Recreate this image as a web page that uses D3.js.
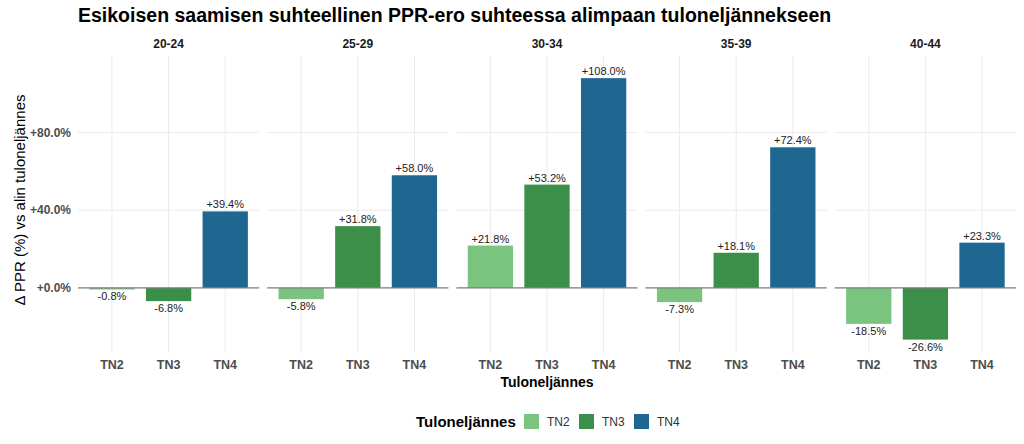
<!DOCTYPE html>
<html>
<head>
<meta charset="utf-8">
<script src="https://cdn.jsdelivr.net/npm/d3@7"></script>
<style>
  body { margin: 0; background: #fff; }
  text { font-family: "Liberation Sans", Arial, sans-serif; }
</style>
</head>
<body>
<div id="chart"></div>
<script>
const ageGroups = ["20-24", "25-29", "30-34", "35-39", "40-44"];
const quartiles = ["TN2", "TN3", "TN4"];
const valuesTN2 = [-0.8, -5.8, 21.8, -7.3, -18.5];
const valuesTN3 = [-6.8, 31.8, 53.2, 18.1, -26.6];
const valuesTN4 = [39.4, 58.0, 108.0, 72.4, 23.3];
const yTicks = [0, 40, 80];
const colors = ["#7bc47f", "#3b8f48", "#1e6791"];

const data = ageGroups.map((g, i) => ({
    group: g,
    values: [
        { q: "TN2", v: valuesTN2[i] },
        { q: "TN3", v: valuesTN3[i] },
        { q: "TN4", v: valuesTN4[i] }
    ]
}));

const W = 1024, H = 444;
const plotLeft = 78, plotRight = 1016, plotTop = 56, plotBottom = 353;
const gap = 8;
const panelW = (plotRight - plotLeft - gap * (ageGroups.length - 1)) / ageGroups.length;

const svg = d3.select("#chart")
    .append("svg")
    .attr("width", W)
    .attr("height", H);

const color = d3.scaleOrdinal().domain(quartiles).range(colors);

const y = d3.scaleLinear().domain([-33.5, 119.4]).range([plotBottom, plotTop]);

const panelX = d3.scaleBand().domain(ageGroups).range([plotLeft, plotRight + gap]).paddingInner(0);

// band scale inside each panel, ggplot-like expansion of 0.6 units
const x = d3.scaleBand().domain(quartiles).range([0, panelW]).paddingInner(0.2).paddingOuter(0.2);

const fmt = v => (v >= 0 ? "+" : "") + v.toFixed(1) + "%";

// title
svg.append("text")
    .attr("x", plotLeft)
    .attr("y", 22)
    .attr("font-size", "19.5px")
    .attr("font-weight", "bold")
    .attr("fill", "#000")
    .text("Esikoisen saamisen suhteellinen PPR-ero suhteessa alimpaan tuloneljännekseen");

data.forEach(d => {
    const g = svg.append("g")
        .attr("transform", `translate(${panelX(d.group)},0)`);

    // horizontal grid
    g.selectAll(".hgrid")
        .data(yTicks)
        .enter()
        .append("line")
        .attr("x1", 0).attr("x2", panelW)
        .attr("y1", t => y(t)).attr("y2", t => y(t))
        .style("stroke", "#ebebeb")
        .style("stroke-width", 1);

    // vertical grid
    g.selectAll(".vgrid")
        .data(quartiles)
        .enter()
        .append("line")
        .attr("x1", q => x(q) + x.bandwidth() / 2)
        .attr("x2", q => x(q) + x.bandwidth() / 2)
        .attr("y1", plotTop).attr("y2", plotBottom)
        .style("stroke", "#ebebeb")
        .style("stroke-width", 1);

    // strip label
    g.append("text")
        .attr("x", panelW / 2)
        .attr("y", 48)
        .attr("text-anchor", "middle")
        .attr("font-size", "12px")
        .attr("font-weight", "bold")
        .attr("fill", "#1a1a1a")
        .text(d.group);

    // bars
    g.selectAll(".bar")
        .data(d.values)
        .enter()
        .append("rect")
        .attr("x", v => x(v.q))
        .attr("width", x.bandwidth())
        .attr("y", v => y(Math.max(0, v.v)))
        .attr("height", v => Math.abs(y(v.v) - y(0)))
        .style("fill", v => color(v.q));

    // zero line
    g.append("line")
        .attr("x1", 0).attr("x2", panelW)
        .attr("y1", y(0)).attr("y2", y(0))
        .style("stroke", "#7f7f7f")
        .style("stroke-width", 1.2);

    // value labels
    g.selectAll(".lbl")
        .data(d.values)
        .enter()
        .append("text")
        .attr("x", v => x(v.q) + x.bandwidth() / 2)
        .attr("y", v => v.v >= 0 ? y(v.v) - 3 : y(v.v) + 11)
        .attr("text-anchor", "middle")
        .attr("font-size", "11px")
        .attr("fill", "#222")
        .text(v => fmt(v.v));

    // x tick labels
    g.selectAll(".xt")
        .data(quartiles)
        .enter()
        .append("text")
        .attr("x", q => x(q) + x.bandwidth() / 2)
        .attr("y", 369)
        .attr("text-anchor", "middle")
        .attr("font-size", "12.5px")
        .attr("font-weight", "bold")
        .attr("fill", "#4d4d4d")
        .text(q => q);
});

// y tick labels
svg.selectAll(".yt")
    .data(yTicks)
    .enter()
    .append("text")
    .attr("x", 71)
    .attr("y", t => y(t) + 4)
    .attr("text-anchor", "end")
    .attr("font-size", "12px")
    .attr("font-weight", "bold")
    .attr("fill", "#4d4d4d")
    .text(t => "+" + t.toFixed(1) + "%");

// y axis title
svg.append("text")
    .attr("transform", "translate(25,200) rotate(-90)")
    .attr("text-anchor", "middle")
    .attr("font-size", "15px")
    .attr("fill", "#000")
    .text("Δ PPR (%) vs alin tuloneljännes");

// x axis title
svg.append("text")
    .attr("x", (plotLeft + plotRight) / 2)
    .attr("y", 387)
    .attr("text-anchor", "middle")
    .attr("font-size", "14px")
    .attr("font-weight", "bold")
    .attr("fill", "#000")
    .text("Tuloneljännes");

// legend
const legend = svg.append("g").attr("transform", "translate(416,0)");
legend.append("text")
    .attr("x", 0)
    .attr("y", 427)
    .attr("font-size", "15px")
    .attr("font-weight", "bold")
    .attr("fill", "#000")
    .text("Tuloneljännes");

const items = legend.selectAll(".item")
    .data(quartiles)
    .enter()
    .append("g")
    .attr("transform", (q, i) => `translate(${108 + i * 55},0)`);

items.append("rect")
    .attr("x", 0)
    .attr("y", 414)
    .attr("width", 15)
    .attr("height", 15)
    .style("fill", q => color(q));

items.append("text")
    .attr("x", 23)
    .attr("y", 426)
    .attr("font-size", "12px")
    .attr("fill", "#333")
    .text(q => q);
</script>
</body>
</html>
